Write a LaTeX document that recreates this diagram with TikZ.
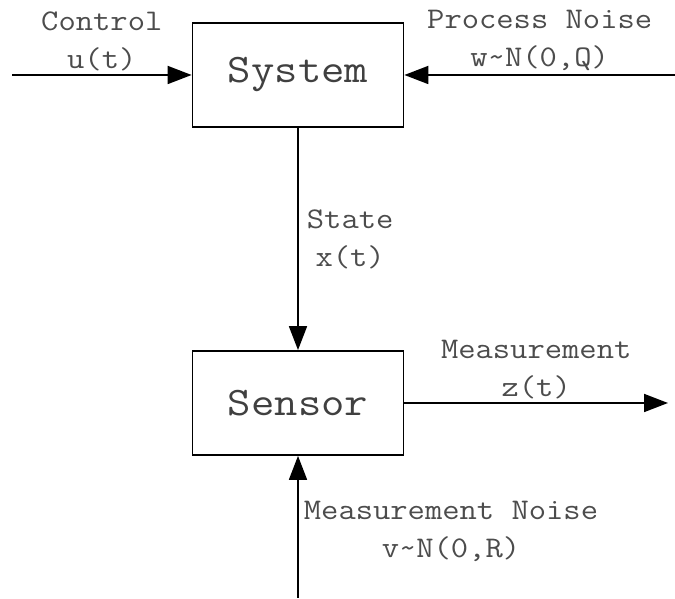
\documentclass[tikz,border=0pt]{standalone}
\usepackage{fontspec}
\newfontfamily\diagfont[FakeStretch=1.12]{Latin Modern Mono}
\usetikzlibrary{positioning, arrows.meta}

\begin{document}
\begin{tikzpicture}[x=1pt, y=1pt, >={Triangle[length=24pt, width=18pt]}, line width=1.8pt,
    block/.style={draw, minimum width=211pt, minimum height=104pt, font=\fontsize{40.5}{48}\diagfont, text=black!75},
    lbl/.style={font=\fontsize{30}{38}\diagfont, align=center, text=black!70, inner sep=3pt}]
  \useasboundingbox (0,0) rectangle (675,599);
  \node[block] (sys) at (298,524) {System};
  \node[block] (sen) at (298,196) {Sensor};
  \coordinate (u) at (12,524);
  \coordinate (w) at (675,524);
  \coordinate (z) at (668,196);
  \coordinate (v) at (298,1);
  \draw[->] (u) -- node[lbl, above] {Control\\u(t)} (sys);
  \draw[->] (w) -- node[lbl, above] {Process Noise\\w\textasciitilde N(0,Q)} (sys);
  \draw[->] (sys) -- node[lbl, right=5pt] {State\\x(t)} (sen);
  \draw[->] (sen) -- node[lbl, above] {Measurement\\z(t)} (z);
  \draw[->] (v) -- node[lbl, right=2pt, yshift=-4pt] {Measurement Noise\\v\textasciitilde N(0,R)} (sen);
\end{tikzpicture}
\end{document}
